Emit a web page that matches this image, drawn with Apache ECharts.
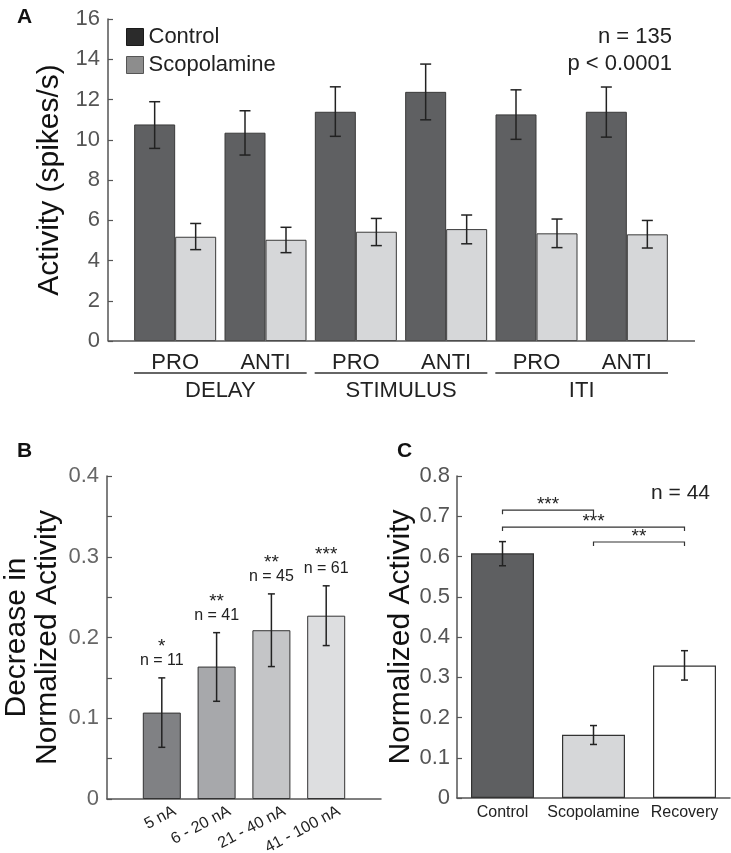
<!DOCTYPE html>
<html><head><meta charset="utf-8">
<script src="https://cdn.jsdelivr.net/npm/echarts/dist/echarts.min.js"></script>
<style>html,body{margin:0;padding:0;background:#fff}#c{width:731px;height:853px}</style>
</head><body><div id="c"></div>
<script>
// ---------- Panel A data ----------
const aCategories = ['PRO', 'ANTI', 'PRO', 'ANTI', 'PRO', 'ANTI'];
const aGroups = ['DELAY', 'STIMULUS', 'ITI'];
const aControl = [10.76, 10.35, 11.39, 12.38, 11.26, 11.39];
const aControlHi = [11.89, 11.44, 12.63, 13.76, 12.48, 12.62];
const aControlLo = [9.57, 9.24, 10.17, 10.99, 10.02, 10.13];
const aScop = [5.18, 5.03, 5.43, 5.56, 5.35, 5.30];
const aScopHi = [5.84, 5.65, 6.09, 6.26, 6.06, 5.99];
const aScopLo = [4.54, 4.39, 4.74, 4.83, 4.64, 4.62];
const aStats = ['n = 135', 'p < 0.0001'];
// ---------- Panel B data ----------
const bCategories = ['5 nA', '6 - 20 nA', '21 - 40 nA', '41 - 100 nA'];
const bValues = [0.107, 0.164, 0.209, 0.227];
const bHi = [0.150, 0.206, 0.254, 0.264];
const bLo = [0.064, 0.121, 0.164, 0.190];
const bN = ['n = 11', 'n = 41', 'n = 45', 'n = 61'];
const bStars = ['*', '**', '**', '***'];
// ---------- Panel C data ----------
const cCategories = ['Control', 'Scopolamine', 'Recovery'];
const cValues = [0.608, 0.157, 0.329];
const cHi = [0.637, 0.180, 0.366];
const cLo = [0.577, 0.133, 0.293];
const cBracketFrom = [0, 0, 1];
const cBracketTo = [1, 2, 2];
const cBracketLevel = [0.715, 0.673, 0.636];
const cBracketStars = ['***', '***', '**'];
const cStats = 'n = 44';

// ---------- styles ----------
const FONT = 'Liberation Sans, Arial, sans-serif';
const bBarColors = ['#808184', '#a7a8ab', '#c4c5c7', '#dddee0'];
const cBarColors = ['#5e5f61', '#d6d7d9', '#ffffff'];
const ERR = '#222';

function errRender(offset, cap) {
  return function (params, api) {
    const x = api.value(0);
    const lo = api.coord([x, api.value(1)]);
    const hi = api.coord([x, api.value(2)]);
    const cx = lo[0] + offset;
    const st = { stroke: ERR, lineWidth: 1.5 };
    return {
      type: 'group', children: [
        { type: 'line', shape: { x1: cx, y1: lo[1], x2: cx, y2: hi[1] }, style: st },
        { type: 'line', shape: { x1: cx - cap / 2, y1: hi[1], x2: cx + cap / 2, y2: hi[1] }, style: st },
        { type: 'line', shape: { x1: cx - cap / 2, y1: lo[1], x2: cx + cap / 2, y2: lo[1] }, style: st }
      ]
    };
  };
}

const chart = echarts.init(document.getElementById('c'), null, { renderer: 'canvas' });

const yAxisCommon = {
  type: 'value',
  axisLine: { show: true, lineStyle: { color: '#555', width: 1.5 } },
  axisTick: { show: true, inside: true, length: 5, lineStyle: { color: '#555', width: 1.2 } },
  splitLine: { show: false },
  axisLabel: { fontFamily: FONT, fontSize: 22, color: '#555', margin: 8 },
  nameLocation: 'middle',
  nameTextStyle: { fontFamily: FONT, fontSize: 30, color: '#111' }
};

const option = {
  animation: false,
  backgroundColor: '#fff',
  textStyle: { fontFamily: FONT },
  grid: [
    { left: 130, right: 59, top: 19, bottom: 512 },
    { left: 107, right: 350, top: 476, bottom: 54 },
    { left: 457, right: 1, top: 476, bottom: 55 }
  ],
  legend: {
    orient: 'vertical', left: 126, top: 26, padding: 0,
    itemWidth: 17, itemHeight: 17, itemGap: 6, icon: 'rect',
    textStyle: { fontFamily: FONT, fontSize: 22, color: '#222' },
    data: [
      { name: 'Control', itemStyle: { color: '#2b2b2b', borderColor: '#1a1a1a', borderWidth: 1 } },
      { name: 'Scopolamine', itemStyle: { color: '#8d8d8d', borderColor: '#555', borderWidth: 1 } }
    ]
  },
  xAxis: [
    { gridIndex: 0, type: 'category', data: aCategories,
      axisLine: { show: false }, axisTick: { show: false },
      axisLabel: { fontFamily: FONT, fontSize: 22, color: '#222', margin: 11 } },
    { gridIndex: 0, type: 'category', data: aGroups, position: 'bottom', offset: 39,
      axisLine: { show: false }, axisTick: { show: false },
      axisLabel: { fontFamily: FONT, fontSize: 22, color: '#222', margin: 0 } },
    { gridIndex: 1, type: 'category', boundaryGap: false, data: [''].concat(bCategories, ['']),
      axisLine: { lineStyle: { color: '#555', width: 1.5 } }, axisTick: { show: false },
      axisLabel: { show: false } },
    { gridIndex: 2, type: 'category', data: cCategories,
      axisLine: { lineStyle: { color: '#555', width: 1.5 } }, axisTick: { show: false },
      axisLabel: { fontFamily: FONT, fontSize: 16, color: '#222', margin: 7, interval: 0, hideOverlap: false } }
  ],
  yAxis: [
    Object.assign({}, yAxisCommon, { gridIndex: 0, min: 0, max: 16, interval: 2, offset: 22,
      name: 'Activity (spikes/s)', nameGap: 43 }),
    Object.assign({}, yAxisCommon, { gridIndex: 1, min: 0, max: 0.4, interval: 0.05,
      name: 'Decrease in\nNormalized Activity', nameGap: 44,
      nameTextStyle: { fontFamily: FONT, fontSize: 30, color: '#111', lineHeight: 31 },
      axisLabel: { fontFamily: FONT, fontSize: 22, color: '#666', margin: 8,
        formatter: v => { const k = Math.round(v * 100); if (k % 10 !== 0) return ''; return k === 0 ? '0' : (k / 100).toFixed(1); } } }),
    Object.assign({}, yAxisCommon, { gridIndex: 2, min: 0, max: 0.8, interval: 0.1,
      name: 'Normalized Activity', nameGap: 41,
      axisLabel: { fontFamily: FONT, fontSize: 22, color: '#555', margin: 7,
        formatter: v => { const k = Math.round(v * 10); return k === 0 ? '0' : (k / 10).toFixed(1); } } })
  ],
  series: [
    { name: 'Control', type: 'bar', xAxisIndex: 0, yAxisIndex: 0, data: aControl,
      barWidth: 41, barGap: '0%',
      itemStyle: { color: '#5f6062', borderColor: '#3a3a3a', borderWidth: 1 } },
    { name: 'Scopolamine', type: 'bar', xAxisIndex: 0, yAxisIndex: 0, data: aScop,
      barWidth: 41, barGap: '0%',
      itemStyle: { color: '#d6d7d9', borderColor: '#3a3a3a', borderWidth: 1 } },
    { type: 'custom', xAxisIndex: 0, yAxisIndex: 0, renderItem: errRender(-20.5, 11),
      encode: { x: 0, y: [1, 2] }, z: 5,
      data: aControl.map((_, i) => [i, aControlLo[i], aControlHi[i]]) },
    { type: 'custom', xAxisIndex: 0, yAxisIndex: 0, renderItem: errRender(20.5, 11),
      encode: { x: 0, y: [1, 2] }, z: 5,
      data: aScop.map((_, i) => [i, aScopLo[i], aScopHi[i]]) },
    // group underline for panel A
    { type: 'custom', xAxisIndex: 1, yAxisIndex: 0, silent: true,
      renderItem: function (params, api) {
        const p = api.coord([api.value(0), 0]);
        const half = api.size([1, 0])[0] / 2 - 4;
        return { type: 'line', shape: { x1: p[0] - half, y1: p[1] + 32, x2: p[0] + half, y2: p[1] + 32 },
          style: { stroke: '#333', lineWidth: 1.5 } };
      },
      data: aGroups.map((_, i) => [i]) },
    // Panel B
    { type: 'bar', xAxisIndex: 2, yAxisIndex: 1, barWidth: 38,
      data: ['-'].concat(bValues.map((v, i) => ({ value: v, itemStyle: { color: bBarColors[i] } })), ['-']),
      itemStyle: { borderColor: '#333', borderWidth: 1 } },
    { type: 'custom', xAxisIndex: 2, yAxisIndex: 1, z: 5,
      renderItem: function (params, api) {
        const g = errRender(0, 7)(params, api);
        const hi = api.coord([api.value(0), api.value(2)]);
        const base = api.coord([api.value(0), 0]);
        const i = params.dataIndex;
        g.children.push({ type: 'text', x: hi[0], y: hi[1] - 17,
          style: { text: bN[i], fontFamily: FONT, fontSize: 16, fill: '#222', align: 'center', verticalAlign: 'middle' } });
        g.children.push({ type: 'text', x: hi[0], y: hi[1] - 31,
          style: { text: bStars[i], fontFamily: FONT, fontSize: 19, fill: '#222', align: 'center', verticalAlign: 'middle' } });
        // category label, rotated
        g.children.push({ type: 'text', x: base[0] + 13, y: base[1] + 11, rotation: 28 * Math.PI / 180,
          style: { text: bCategories[i], fontFamily: FONT, fontSize: 16, fill: '#222', align: 'right', verticalAlign: 'middle' } });
        return g;
      },
      encode: { x: 0, y: [1, 2] },
      data: bValues.map((_, i) => [i + 1, bLo[i], bHi[i]]) },
    // Panel C
    { type: 'bar', xAxisIndex: 3, yAxisIndex: 2, barWidth: 63,
      data: cValues.map((v, i) => ({ value: v, itemStyle: { color: cBarColors[i] } })),
      itemStyle: { borderColor: '#333', borderWidth: 1.2 } },
    { type: 'custom', xAxisIndex: 3, yAxisIndex: 2, renderItem: errRender(0, 7), z: 5,
      encode: { x: 0, y: [1, 2] },
      data: cValues.map((_, i) => [i, cLo[i], cHi[i]]) },
    { type: 'custom', xAxisIndex: 3, yAxisIndex: 2, silent: true,
      renderItem: function (params, api) {
        const a = api.coord([api.value(0), api.value(2)]);
        const b = api.coord([api.value(1), api.value(2)]);
        const st = { stroke: '#333', lineWidth: 1.2 };
        return { type: 'group', children: [
          { type: 'polyline', shape: { points: [[a[0], a[1] + 4], [a[0], a[1]], [b[0], b[1]], [b[0], b[1] + 4]] }, style: Object.assign({ fill: null }, st) },
          { type: 'text', x: (a[0] + b[0]) / 2, y: a[1] + 4,
            style: { text: cBracketStars[params.dataIndex], fontFamily: FONT, fontSize: 19, fill: '#222', align: 'center', verticalAlign: 'bottom' } }
        ] };
      },
      encode: { x: [0, 1], y: 2 },
      data: cBracketFrom.map((f, i) => [f, cBracketTo[i], cBracketLevel[i]]) }
  ],
  graphic: [
    { type: 'text', left: 17, top: 7, style: { text: 'A', fontFamily: FONT, fontSize: 21, fontWeight: 'bold', fill: '#111' } },
    { type: 'text', left: 17, top: 441, style: { text: 'B', fontFamily: FONT, fontSize: 21, fontWeight: 'bold', fill: '#111' } },
    { type: 'text', left: 397, top: 441, style: { text: 'C', fontFamily: FONT, fontSize: 21, fontWeight: 'bold', fill: '#111' } },
    { type: 'text', x: 672, y: 37, style: { text: aStats[0], fontFamily: FONT, fontSize: 22, fill: '#222', align: 'right', verticalAlign: 'middle' } },
    { type: 'text', x: 672, y: 64, style: { text: aStats[1], fontFamily: FONT, fontSize: 22, fill: '#222', align: 'right', verticalAlign: 'middle' } },
    { type: 'text', x: 710, y: 493, style: { text: cStats, fontFamily: FONT, fontSize: 21, fill: '#222', align: 'right', verticalAlign: 'middle' } }
  ]
};
chart.setOption(option);

// Panel A x-axis baseline spanning beyond the bars (from the offset y-axis to the right end)
const y0 = chart.convertToPixel({ yAxisIndex: 0 }, 0);
chart.setOption({ graphic: option.graphic.concat([
  { type: 'line', shape: { x1: 108, y1: y0, x2: 695, y2: y0 }, style: { stroke: '#555', lineWidth: 1.5 }, z: 10 }
]) });
</script></body></html>
